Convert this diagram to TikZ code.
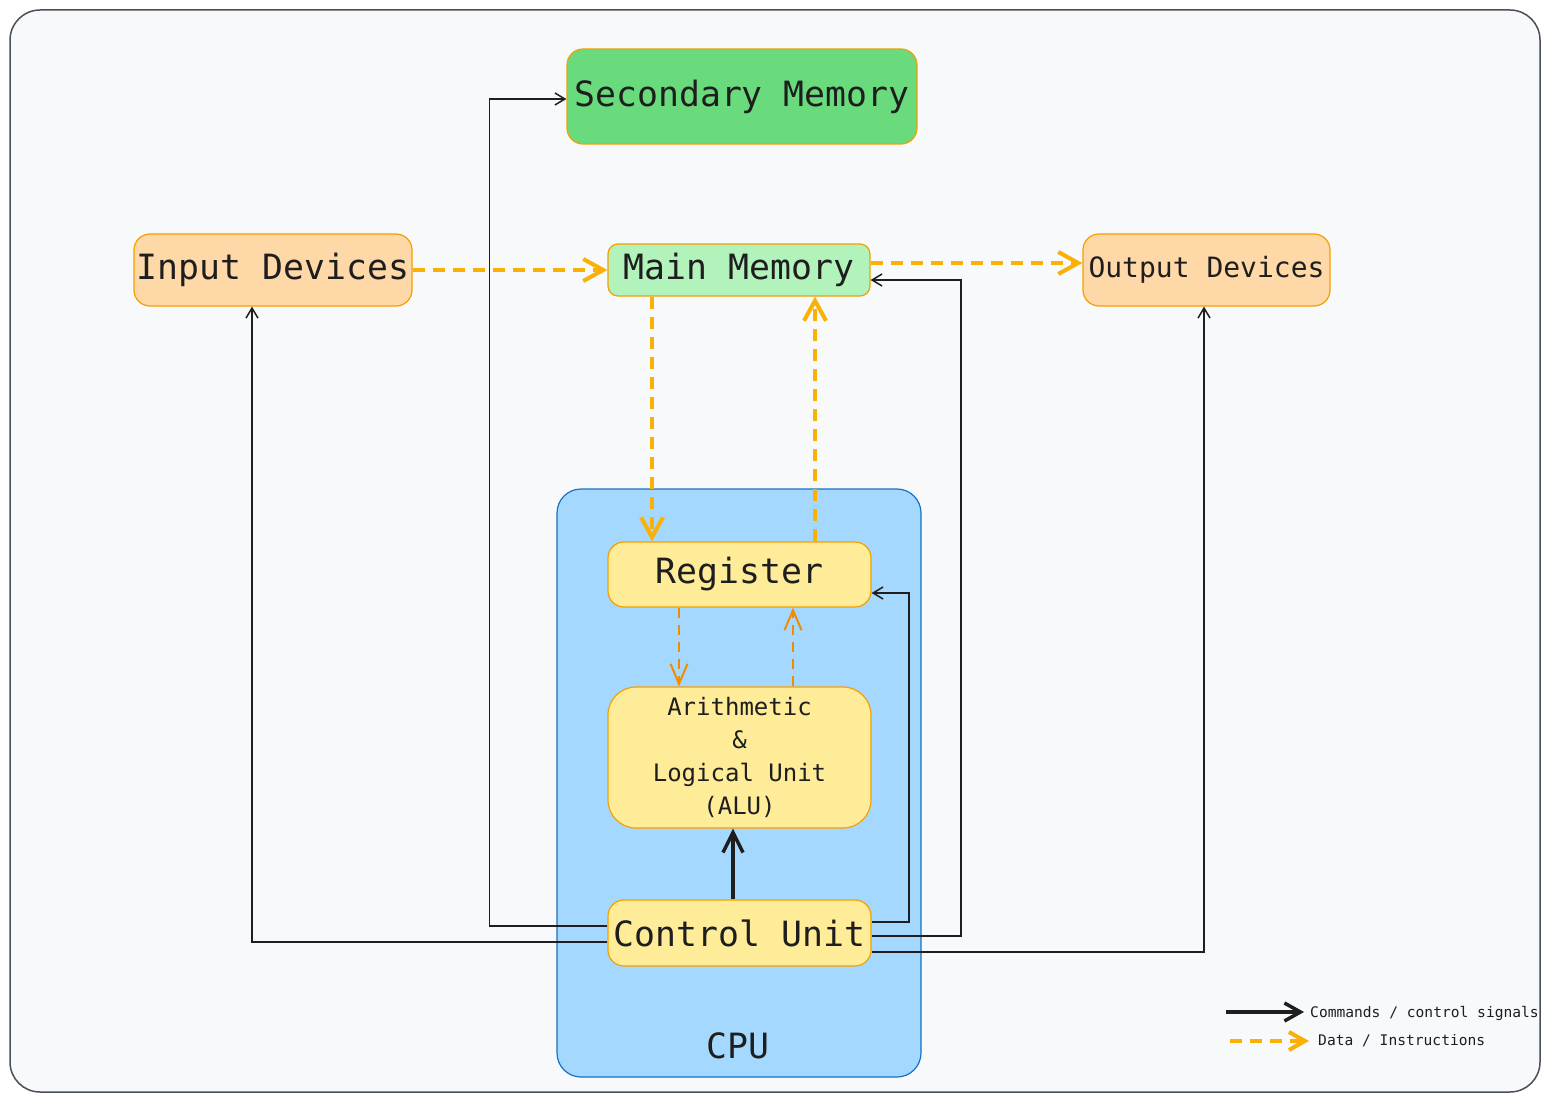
\documentclass[tikz,border=0pt]{standalone}
\usepackage{fontspec}
\setmonofont{DejaVu Sans Mono}
\usetikzlibrary{arrows.meta}
\definecolor{bgc}{HTML}{F8F9FA}
\definecolor{framec}{HTML}{495057}
\definecolor{borc}{HTML}{F59F00}
\definecolor{secc}{HTML}{69DB7C}
\definecolor{mmc}{HTML}{B2F2BB}
\definecolor{ioc}{HTML}{FFD8A8}
\definecolor{cpuc}{HTML}{A5D8FF}
\definecolor{cpub}{HTML}{1971C2}
\definecolor{unitc}{HTML}{FFEC99}
\definecolor{datac}{HTML}{FAB005}
\definecolor{datai}{HTML}{F08C00}
\definecolor{inkc}{HTML}{1E1E1E}
\tikzset{
  box/.style={draw=borc, line width=1.2pt, rounded corners=16pt, inner sep=0pt, text=inkc, font=\ttfamily\fontsize{34.8}{40}\selectfont},
  datathick/.style={draw=datac, line width=4pt, dash pattern=on 12pt off 8pt, -{Straight Barb[length=20pt,width=22pt,line width=4pt]}},
  datathin/.style={draw=datai, line width=2.5pt, dash pattern=on 10pt off 7pt, -{Straight Barb[length=20pt,width=17pt,line width=2pt]}},
  ctrl/.style={draw=inkc, line width=1.8pt, -{Straight Barb[length=10pt,width=12pt,line width=1.5pt]}},
  ctrlthick/.style={draw=inkc, line width=4pt, -{Straight Barb[length=20pt,width=20pt,line width=3.5pt]}},
  legtext/.style={anchor=west, text=inkc, font=\ttfamily\fontsize{14.6}{17}\selectfont, inner sep=0pt}
}
\begin{document}
\begin{tikzpicture}[x=1pt,y=-1pt]
\useasboundingbox (0,0) rectangle (1550,1102);
\draw[fill=bgc, draw=framec, line width=1.5pt, rounded corners=30pt] (10,10) rectangle (1540,1092);
% CPU container
\node[draw=cpub, fill=cpuc, line width=1.2pt, rounded corners=24pt, minimum width=364pt, minimum height=588pt, inner sep=0pt] (cpu) at (739,783) {};
\node[text=inkc, font=\ttfamily\fontsize{34.8}{40}\selectfont, inner sep=0pt] (cpulabel) at (738,1046) {CPU};
% nodes
\node[box, fill=secc, minimum width=350pt, minimum height=95pt] (sec) at (742,96.5) {Secondary Memory};
\node[box, fill=ioc, minimum width=278pt, minimum height=72pt] (inp) at (273,270) {Input Devices};
\node[box, fill=mmc, minimum width=262pt, minimum height=52pt, rounded corners=10pt] (mm) at (739,270) {Main Memory};
\node[box, fill=ioc, minimum width=247pt, minimum height=72pt, font=\ttfamily\fontsize{28}{34}\selectfont] (out) at (1206.5,270) {Output Devices};
\node[box, fill=unitc, minimum width=263pt, minimum height=65pt] (reg) at (739.5,574.5) {Register};
\node[box, fill=unitc, minimum width=263pt, minimum height=141pt, rounded corners=28pt, align=center, font=\ttfamily\fontsize{24}{33}\selectfont] (alu) at (739.5,757.5) {Arithmetic\\\&\\Logical Unit\\(ALU)};
\node[box, fill=unitc, minimum width=263pt, minimum height=66pt] (cu) at (739.5,933) {Control Unit};
% data connectors
\draw[datathick] (inp.east) -- (mm.west);
\draw[datathick] ([yshift=7pt]mm.east) -- ([yshift=7pt]out.west);
\draw[datathick] ([xshift=-87pt]mm.south) -- ([xshift=-87.5pt]reg.north);
\draw[datathick] ([xshift=75.5pt]reg.north) -- ([xshift=76pt]mm.south);
\draw[datathin] ([xshift=-60.5pt]reg.south) -- ([xshift=-60.5pt]alu.north);
\draw[datathin] ([xshift=53.5pt]alu.north) -- ([xshift=53.5pt]reg.south);
% control connectors
\draw[ctrlthick] ([xshift=-6.5pt]cu.north) -- ([xshift=-6.5pt]alu.south);
\draw[ctrl] ([yshift=7pt]cu.west) -- ++(-118,0) |- ([yshift=-2.5pt]sec.west);
\draw[ctrl] ([yshift=-9pt]cu.west) -| ([xshift=-21pt]inp.south);
\draw[ctrl] ([yshift=11pt]cu.east) -- ++(37,0) |- ([yshift=-18.5pt]reg.east);
\draw[ctrl] ([yshift=-3pt]cu.east) -- ++(89,0) |- ([yshift=-10pt]mm.east);
\draw[ctrl] ([yshift=-19pt]cu.east) -| ([xshift=-2.5pt]out.south);
% legend
\coordinate (l1a) at (1226,1012);
\coordinate (l1b) at (1304,1012);
\coordinate (l2a) at (1230,1041);
\coordinate (l2b) at (1309,1041);
\draw[ctrlthick, -{Straight Barb[length=16pt,width=18pt,line width=3.5pt]}] (l1a) -- (l1b);
\draw[datathick, -{Straight Barb[length=16pt,width=18pt,line width=4pt]}] (l2a) -- (l2b);
\node[legtext] (lt1) at (1310,1013) {Commands / control signals};
\node[legtext] (lt2) at (1318,1041) {Data / Instructions};
\end{tikzpicture}
\end{document}
